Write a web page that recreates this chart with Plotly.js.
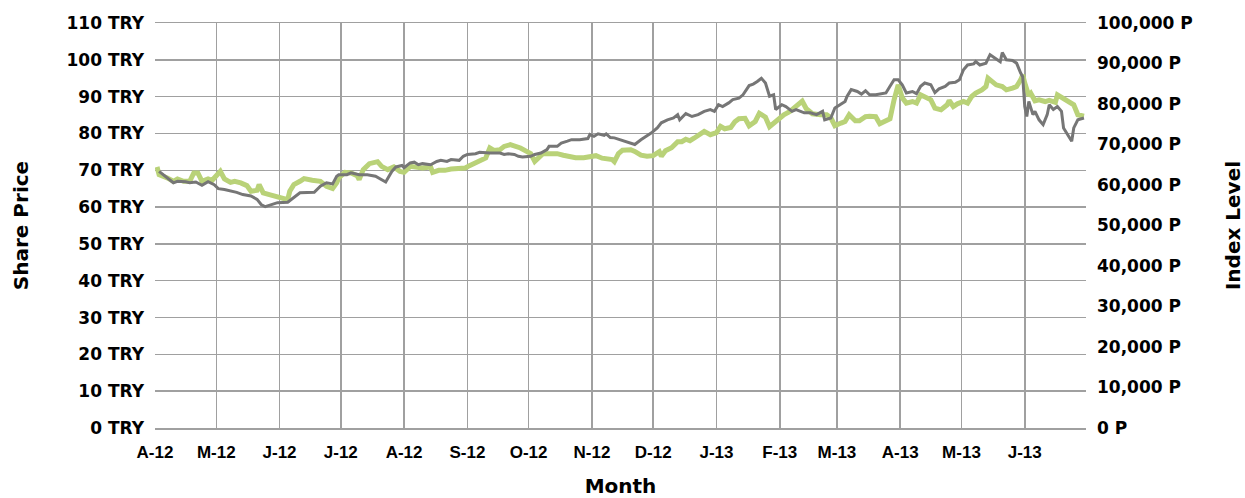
<!DOCTYPE html>
<html>
<head>
<meta charset="utf-8">
<script src="https://cdn.plot.ly/plotly-3.0.1.min.js"></script>
<style>html,body{margin:0;padding:0;background:#fff}#chart{width:1245px;height:498px}</style>
</head>
<body>
<div id="chart"></div>
<script>
// Share price (TRY) – grey line, left axis
const priceDates = ['2012-04-03','2012-04-06','2012-04-10','2012-04-12','2012-04-16','2012-04-18','2012-04-21','2012-04-24','2012-04-27','2012-04-30',
'2012-05-02','2012-05-05','2012-05-09','2012-05-11','2012-05-14','2012-05-18','2012-05-21','2012-05-23','2012-05-25','2012-05-28','2012-05-31',
'2012-06-05','2012-06-08','2012-06-11','2012-06-18','2012-06-21','2012-06-24','2012-06-27','2012-06-29','2012-06-30',
'2012-07-04','2012-07-06','2012-07-10','2012-07-14','2012-07-18','2012-07-21','2012-07-23','2012-07-26','2012-07-28','2012-07-31',
'2012-08-01','2012-08-04','2012-08-06','2012-08-08','2012-08-10','2012-08-14','2012-08-17','2012-08-19','2012-08-22','2012-08-24','2012-08-28','2012-08-30',
'2012-09-01','2012-09-05','2012-09-07','2012-09-12','2012-09-17','2012-09-19','2012-09-21','2012-09-24','2012-09-26','2012-09-28',
'2012-10-02','2012-10-04','2012-10-07','2012-10-10','2012-10-11','2012-10-15','2012-10-17','2012-10-20','2012-10-22','2012-10-26','2012-10-30','2012-10-31',
'2012-11-02','2012-11-04','2012-11-07','2012-11-08','2012-11-10','2012-11-12','2012-11-15','2012-11-17','2012-11-20','2012-11-22','2012-11-25','2012-11-28','2012-11-30',
'2012-12-03','2012-12-05','2012-12-08','2012-12-11','2012-12-13','2012-12-14','2012-12-17','2012-12-20','2012-12-23','2012-12-26','2012-12-29','2012-12-31',
'2013-01-02','2013-01-04','2013-01-07','2013-01-09','2013-01-12','2013-01-14','2013-01-17','2013-01-19','2013-01-21','2013-01-23','2013-01-25','2013-01-27','2013-01-29','2013-01-30',
'2013-02-02','2013-02-04','2013-02-07','2013-02-09','2013-02-13','2013-02-16','2013-02-19','2013-02-22','2013-02-23','2013-02-26','2013-02-28',
'2013-03-03','2013-03-05','2013-03-06','2013-03-08','2013-03-11','2013-03-13','2013-03-15','2013-03-17','2013-03-20','2013-03-22','2013-03-25','2013-03-27','2013-03-29','2013-03-31',
'2013-04-02','2013-04-04','2013-04-07','2013-04-09','2013-04-11','2013-04-13','2013-04-16','2013-04-18','2013-04-20','2013-04-23','2013-04-25','2013-04-28','2013-04-30',
'2013-05-02','2013-05-04','2013-05-07','2013-05-08','2013-05-10','2013-05-13','2013-05-15','2013-05-17','2013-05-20','2013-05-21','2013-05-23','2013-05-26','2013-05-28','2013-05-30','2013-05-31',
'2013-06-01','2013-06-02','2013-06-03','2013-06-05','2013-06-06','2013-06-08','2013-06-10','2013-06-12','2013-06-13','2013-06-15','2013-06-17','2013-06-19','2013-06-20','2013-06-22','2013-06-24','2013-06-25','2013-06-27','2013-06-30'];
const sharePrice = [69.7,68.4,66.6,67.0,66.9,66.6,66.8,65.9,66.9,66.1,
65.0,64.8,64.3,64.0,63.4,63.0,62.1,60.7,60.1,60.7,61.2,
61.3,62.5,63.9,64.0,65.7,66.6,66.3,68.4,68.8,
68.8,69.3,68.8,68.8,68.4,67.5,66.8,69.7,70.9,71.3,
70.7,72.0,72.2,71.5,71.8,71.5,72.4,72.7,72.4,72.9,72.7,73.8,
74.3,74.5,74.9,74.7,74.7,74.3,74.5,74.3,73.8,73.6,
73.8,74.3,74.7,75.6,76.5,76.5,77.4,77.9,78.3,78.3,78.6,79.7,
79.2,79.9,79.5,79.9,78.9,78.8,78.3,77.9,77.4,77.0,78.3,79.4,80.1,
81.5,82.9,83.7,84.2,85.1,83.7,85.4,84.6,85.1,86.0,86.5,86.0,
87.8,87.3,88.3,89.2,89.6,90.5,93.0,93.4,94.1,95.0,93.7,90.1,90.5,86.5,
87.8,87.3,86.0,86.5,85.6,85.6,85.1,86.0,83.7,84.2,86.9,
88.0,88.7,90.1,91.9,91.4,90.7,91.6,90.5,90.5,90.7,91.0,92.8,94.6,94.6,
93.2,91.0,91.4,90.8,92.8,93.7,93.2,91.1,92.1,92.8,93.7,93.9,94.6,
97.3,98.6,98.9,99.5,98.6,99.1,101.4,100.7,99.5,102.0,100.0,99.8,99.1,96.4,95.4,
87.3,84.6,88.7,85.1,86.0,83.7,82.4,85.1,87.8,86.5,87.3,86.0,81.5,79.7,77.9,81.5,83.7,84.2];

// Index level (P) – green line, right axis
const indexDates = ['2012-04-02','2012-04-03','2012-04-07','2012-04-10','2012-04-12','2012-04-15','2012-04-18','2012-04-20','2012-04-22','2012-04-24','2012-04-27','2012-04-29',
'2012-05-03','2012-05-05','2012-05-08','2012-05-10','2012-05-13','2012-05-16','2012-05-18','2012-05-21','2012-05-22','2012-05-24','2012-05-27','2012-05-29',
'2012-06-01','2012-06-05','2012-06-06','2012-06-08','2012-06-11','2012-06-13','2012-06-17','2012-06-21','2012-06-24','2012-06-27','2012-06-29','2012-06-30',
'2012-07-03','2012-07-06','2012-07-09','2012-07-10','2012-07-12','2012-07-15','2012-07-19','2012-07-21','2012-07-24','2012-07-27','2012-07-30',
'2012-08-01','2012-08-04','2012-08-07','2012-08-10','2012-08-14','2012-08-15','2012-08-18','2012-08-21','2012-08-24','2012-08-28','2012-08-31',
'2012-09-02','2012-09-05','2012-09-07','2012-09-10','2012-09-12','2012-09-14','2012-09-17','2012-09-19','2012-09-22','2012-09-24','2012-09-27','2012-09-30',
'2012-10-02','2012-10-04','2012-10-06','2012-10-08','2012-10-11','2012-10-15','2012-10-18','2012-10-21','2012-10-24','2012-10-28','2012-10-31',
'2012-11-03','2012-11-06','2012-11-08','2012-11-11','2012-11-12','2012-11-14','2012-11-16','2012-11-20','2012-11-22','2012-11-25','2012-11-28',
'2012-12-01','2012-12-04','2012-12-05','2012-12-07','2012-12-10','2012-12-13','2012-12-15','2012-12-17','2012-12-19','2012-12-21','2012-12-24','2012-12-26','2012-12-29',
'2013-01-01','2013-01-03','2013-01-05','2013-01-08','2013-01-10','2013-01-12','2013-01-15','2013-01-17','2013-01-20','2013-01-22','2013-01-25','2013-01-27','2013-01-30',
'2013-02-03','2013-02-06','2013-02-09','2013-02-12','2013-02-14','2013-02-17','2013-02-21','2013-02-24','2013-02-26','2013-02-28',
'2013-03-03','2013-03-05','2013-03-07','2013-03-10','2013-03-12','2013-03-15','2013-03-17','2013-03-20','2013-03-22','2013-03-25','2013-03-27','2013-03-29','2013-03-31',
'2013-04-02','2013-04-04','2013-04-07','2013-04-09','2013-04-11','2013-04-14','2013-04-16','2013-04-18','2013-04-21','2013-04-24','2013-04-25','2013-04-27','2013-04-29',
'2013-05-02','2013-05-04','2013-05-06','2013-05-08','2013-05-11','2013-05-13','2013-05-14','2013-05-16','2013-05-18','2013-05-21','2013-05-23','2013-05-26','2013-05-28','2013-05-30','2013-05-31',
'2013-06-01','2013-06-03','2013-06-04','2013-06-06','2013-06-08','2013-06-11','2013-06-13','2013-06-16','2013-06-17','2013-06-20','2013-06-22','2013-06-25','2013-06-27','2013-06-30'];
const indexLevel = [64460,62560,61750,60910,61500,60910,60910,62980,62980,60910,61500,61160,
63370,61500,60660,60910,60520,59850,58450,58690,60100,58050,57630,57390,
56820,56400,58450,60100,60910,61580,61160,60910,59680,59110,60520,61750,
63130,62980,62310,61330,63790,65270,65760,64600,63790,64460,63370,
63130,64600,64460,64210,64460,63130,63620,63620,63960,63960,64210,
64780,65440,66080,66670,69140,68550,68720,69530,69950,69700,69140,68300,
67730,65840,66670,67730,67730,67730,67360,66920,66750,66750,67120,
67240,66620,66380,66260,65760,67730,68600,68720,68300,67360,67120,
67240,68230,67070,68470,69210,70690,70690,71300,70930,71550,72410,73230,72410,
72910,74460,73890,74210,75610,76350,76480,74630,75690,77710,76720,74380,75690,
77340,78150,79560,80710,78820,77590,77340,77340,76600,74630,
75290,75690,77340,75860,75860,76850,76970,76850,75120,75860,76350,81030,84730,
81530,80220,80610,80220,82260,81450,81030,78990,78570,79800,80860,79380,80050,
80610,80220,81850,82680,83500,84310,86380,85540,84730,84310,83500,83910,84310,85960,87190,
85150,82020,82630,80790,81030,80610,80910,80420,82260,81450,80610,79800,77340,76970];

// Month ticks
const monthTicks = ['2012-04-01','2012-05-01','2012-06-01','2012-07-01','2012-08-01','2012-09-01','2012-10-01','2012-11-01','2012-12-01',
'2013-01-01','2013-02-01','2013-03-01','2013-04-01','2013-05-01','2013-06-01'];
const monthLabels = ['A-12','M-12','J-12','J-12','A-12','S-12','O-12','N-12','D-12','J-13','F-13','M-13','A-13','M-13','J-13'];

const gridC = '#a0a0a0';
const yFont = {family:'DejaVu Sans, Verdana, sans-serif', size:17, weight:'bold', color:'#000'};
const titleFont = {family:'DejaVu Sans, Verdana, sans-serif', size:20, weight:'bold', color:'#000'};

const traces = [
  {x:indexDates, y:indexLevel, yaxis:'y2', type:'scatter', mode:'lines', name:'Index Level',
   line:{color:'rgb(185,210,120)', width:5}},
  {x:priceDates, y:sharePrice, yaxis:'y', type:'scatter', mode:'lines', name:'Share Price',
   line:{color:'rgb(118,118,118)', width:3}}
];

const layout = {
  width:1245, height:498,
  margin:{l:155, r:159, t:23, b:70},
  paper_bgcolor:'#fff', plot_bgcolor:'#fff',
  showlegend:false,
  xaxis:{type:'date', range:['2012-04-01','2013-07-01'], tickmode:'array', tickvals:monthTicks, ticktext:monthLabels,
    showgrid:true, gridcolor:gridC, gridwidth:1.5, showline:true, mirror:true, linecolor:gridC, linewidth:1.5,
    ticks:'', ticklabelstandoff:8, zeroline:false,
    tickfont:{family:'Liberation Sans, Arial, sans-serif', size:17, weight:'bold', color:'#000'},
    title:{text:'Month', font:titleFont, standoff:20}},
  yaxis:{range:[0,110], dtick:10, tick0:0, side:'left', overlaying:'y2', ticksuffix:' TRY',
    showgrid:true, gridcolor:gridC, gridwidth:1.5, zeroline:false, ticks:'', ticklabelstandoff:10,
    tickfont:yFont, title:{text:'Share Price', font:titleFont, standoff:32}},
  yaxis2:{range:[0,100000], dtick:10000, tick0:0, side:'right', anchor:'x', tickformat:',d', ticksuffix:' P',
    showgrid:false, zeroline:false, ticks:'', ticklabelstandoff:10, showline:false,
    tickfont:yFont, title:{text:'Index Level', font:titleFont, standoff:34}}
};

Plotly.newPlot('chart', traces, layout, {staticPlot:true, displayModeBar:false});
</script>
</body>
</html>
